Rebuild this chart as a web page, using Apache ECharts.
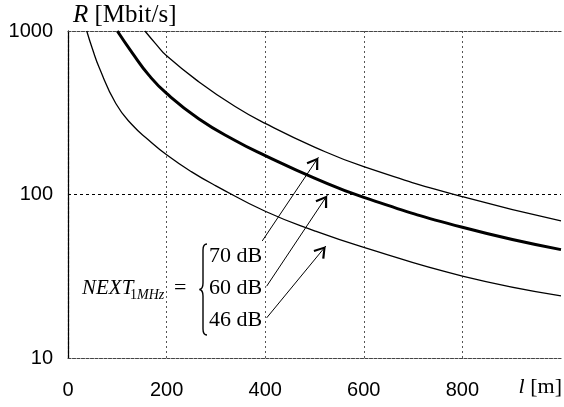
<!DOCTYPE html>
<html>
<head>
<meta charset="utf-8">
<script src="https://cdn.jsdelivr.net/npm/echarts@6/dist/echarts.min.js"></script>
<style>
  html, body { margin: 0; padding: 0; background: #fff; }
  #chart { width: 564px; height: 407px; }
</style>
</head>
<body>
<div id="chart"></div>
<script>
// line length l [m] and rate R [Mbit/s]
const len46 = [38, 50, 63, 97, 131, 164, 200, 250, 300, 400, 500, 600, 800, 1000]
const rate46 = [1000, 770, 600, 360, 265, 215, 175, 138, 113, 79, 60, 47.5, 31.7, 24]

const len60 = [100, 131, 164, 200, 265, 339, 400, 500, 600, 800, 1000]
const rate60 = [1000, 730, 537, 415, 291, 214, 173, 126, 96, 63, 46]

const len70 = [156, 178, 200, 265, 339, 400, 500, 600, 800, 1000]
const rate70 = [1000, 835, 705, 490, 345, 272, 195, 148, 97, 69]

const nextLabels = ['70 dB', '60 dB', '46 dB']
// arrows: [from l, from R, to l, to R]
const arrows = [
  [394, 52, 508, 169],
  [403, 27.5, 526, 99],
  [403, 17.6, 523, 48.4]
]

const xTicks = [0, 200, 400, 600, 800]

const pairs = (xs, ys) => xs.map((x, i) => [x, ys[i]])

const chart = echarts.init(document.getElementById('chart'))

// open arrow head, tip placed at the symbol centre
const arrowHead = 'path://M7,0 L7.01,0 L7,0.01 Z M7,12 L14,22.3 L12.1,23.5 L7,15.6 L1.9,23.5 L0,22.3 Z'

const lineSeries = (name, data, width) => ({
  name,
  type: 'line',
  data,
  smooth: 0.5,
  symbol: 'none',
  clip: true,
  lineStyle: { color: '#000', width },
  z: 3
})

const braceStyle = { stroke: '#000', lineWidth: 1.4, fill: null }
const frameLine = { color: '#444', type: [3, 1.5], width: 1.2 }

const option = {
  animation: false,
  grid: { left: 68, right: 1, top: 31, bottom: 49 },
  xAxis: [
    {
      type: 'value',
      min: 0,
      max: 1000,
      interval: 200,
      axisLine: { lineStyle: frameLine },
      axisTick: { show: false },
      axisLabel: {
        margin: 22,
        fontSize: 20,
        fontFamily: 'Liberation Sans',
        color: '#000',
        formatter: v => (xTicks.includes(v) ? String(v) : '')
      },
      splitLine: {
        show: true,
        showMinLine: false,
        showMaxLine: false,
        lineStyle: { color: '#555', type: [2, 3], width: 1 }
      }
    },
    {
      type: 'value',
      position: 'top',
      min: 0,
      max: 1000,
      interval: 200,
      axisLine: { show: true, lineStyle: frameLine },
      axisTick: { show: false },
      axisLabel: { show: false },
      splitLine: { show: false }
    }
  ],
  yAxis: [
    {
      type: 'log',
      logBase: 10,
      min: 10,
      max: 1000,
      axisLine: { show: true, lineStyle: frameLine },
      axisTick: { show: false },
      minorTick: { show: false },
      axisLabel: {
        margin: 15,
        fontSize: 20,
        fontFamily: 'Liberation Sans',
        color: '#000',
        formatter: v => String(v)
      },
      splitLine: {
        show: true,
        showMinLine: false,
        showMaxLine: false,
        lineStyle: { color: '#000', type: [3, 3], width: 1 }
      }
    },
    {
      type: 'log',
      logBase: 10,
      min: 10,
      max: 1000,
      position: 'right',
      axisLine: { show: true, lineStyle: { color: '#000', width: 1.2 } },
      axisTick: { show: false },
      axisLabel: { show: false },
      splitLine: { show: false }
    }
  ],
  series: [
    lineSeries('46 dB', pairs(len46, rate46), 1.3),
    lineSeries('60 dB', pairs(len60, rate60), 3),
    lineSeries('70 dB', pairs(len70, rate70), 1.3),
    {
      type: 'line',
      data: [],
      markLine: {
        silent: true,
        symbol: ['none', arrowHead],
        symbolSize: [14, 24],
        label: { show: false },
        lineStyle: { color: '#000', width: 1, type: 'solid' },
        data: arrows.map(a => [
          { coord: [a[0], a[1]] },
          { coord: [a[2], a[3]] }
        ])
      }
    }
  ],
  graphic: [
    {
      type: 'text',
      x: 73,
      y: 15,
      style: {
        text: '{i|R} [Mbit/s]',
        font: '25px "Liberation Serif"',
        fill: '#000',
        textVerticalAlign: 'middle',
        rich: {
          i: { fontStyle: 'italic', fontFamily: 'Liberation Serif', fontSize: 25 }
        }
      }
    },
    {
      type: 'text',
      x: 562,
      y: 387,
      style: {
        text: '{i|l} [m]',
        font: '22px "Liberation Serif"',
        fill: '#000',
        textAlign: 'right',
        textVerticalAlign: 'middle',
        rich: {
          i: { fontStyle: 'italic', fontFamily: 'Liberation Serif', fontSize: 22 }
        }
      }
    },
    {
      type: 'text',
      x: 82,
      y: 288,
      style: {
        text: 'NEXT',
        font: 'italic 21px "Liberation Serif"',
        fill: '#000',
        textVerticalAlign: 'middle'
      }
    },
    {
      type: 'text',
      x: 130,
      y: 295,
      style: {
        text: '1{i|MHz}',
        font: '14px "Liberation Serif"',
        fill: '#000',
        textVerticalAlign: 'middle',
        rich: {
          i: { fontStyle: 'italic', fontFamily: 'Liberation Serif', fontSize: 14 }
        }
      }
    },
    {
      type: 'text',
      x: 174,
      y: 288,
      style: {
        text: '=',
        font: '22px "Liberation Serif"',
        fill: '#000',
        textVerticalAlign: 'middle'
      }
    },
    // curly brace
    { type: 'bezierCurve', shape: { x1: 207, y1: 244, x2: 203, y2: 250, cpx1: 203, cpy1: 244 }, style: braceStyle },
    { type: 'line', shape: { x1: 203, y1: 250, x2: 203, y2: 283 }, style: braceStyle },
    { type: 'bezierCurve', shape: { x1: 203, y1: 283, x2: 199.5, y2: 289.5, cpx1: 203, cpy1: 289 }, style: braceStyle },
    { type: 'bezierCurve', shape: { x1: 199.5, y1: 289.5, x2: 203, y2: 296, cpx1: 203, cpy1: 290 }, style: braceStyle },
    { type: 'line', shape: { x1: 203, y1: 296, x2: 203, y2: 329 }, style: braceStyle },
    { type: 'bezierCurve', shape: { x1: 203, y1: 329, x2: 207, y2: 335, cpx1: 203, cpy1: 335 }, style: braceStyle }
  ].concat(nextLabels.map((t, i) => ({
    type: 'text',
    x: 209,
    y: 256 + i * 32,
    style: {
      text: t,
      font: '22px "Liberation Serif"',
      fill: '#000',
      textVerticalAlign: 'middle'
    }
  })))
}

chart.setOption(option)
</script>
</body>
</html>
